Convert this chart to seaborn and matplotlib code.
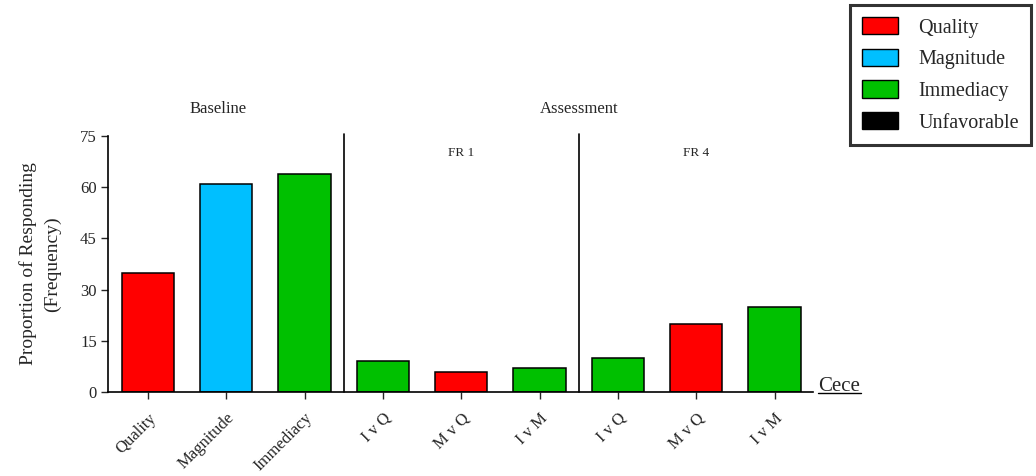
import pandas as pd
import numpy as np
import matplotlib.pyplot as plt
import seaborn as sns
from matplotlib.patches import Patch

# 数据
labels = ['Quality', 'Magnitude', 'Immediacy', 'I v Q', 'M v Q', 'I v M', 'I v Q', 'M v Q', 'I v M']
values = [35, 61, 64, 9, 6, 7, 10, 20, 25]
kinds = ['Quality', 'Magnitude', 'Immediacy', 'Immediacy', 'Quality', 'Immediacy', 'Immediacy', 'Quality', 'Immediacy']
legend_names = ['Quality', 'Magnitude', 'Immediacy', 'Unfavorable']
colors = {'Quality': '#FF0000', 'Magnitude': '#00BFFF', 'Immediacy': '#00C000', 'Unfavorable': '#000000'}

sns.set_style('white')
plt.rcParams['font.family'] = ['Liberation Serif', 'DejaVu Serif']

df = pd.DataFrame({'pos': [str(i) for i in range(len(values))], 'value': values, 'kind': kinds})

fig = plt.figure(figsize=(10.36, 4.76), dpi=100)
ax = fig.add_axes([0.1042, 0.1765, 0.6805, 0.5378])
sns.barplot(data=df, x='pos', y='value', hue='kind', palette=colors, dodge=False,
            width=0.67, saturation=1, edgecolor='black', linewidth=1.1, legend=False, ax=ax)

ax.set_xlim(-0.51, 8.49)
ax.set_ylim(0, 75)
ax.set_yticks([0, 15, 30, 45, 60, 75])
ax.set_xticks(range(len(labels)))
ax.set_xticklabels(labels, rotation=45, ha='right', rotation_mode='anchor', fontsize=12)
ax.tick_params(axis='y', labelsize=12, length=5, width=1, direction='out', left=True, pad=3)
ax.tick_params(axis='x', length=5, width=1, direction='out', bottom=True, pad=8)
ax.set_xlabel('')
ax.set_ylabel('Proportion of Responding\n(Frequency)', fontsize=14, labelpad=14, linespacing=1.5)
sns.despine(ax=ax)
for s in ['left', 'bottom']:
    ax.spines[s].set_color('black')
    ax.spines[s].set_linewidth(1.2)

# 分隔线
for xv in [2.5, 5.5]:
    ax.plot([xv, xv], [0, 75.5], color='black', lw=1.2, clip_on=False)

ax.text(0.9, 83, 'Baseline', ha='center', va='center', fontsize=12)
ax.text(5.5, 83, 'Assessment', ha='center', va='center', fontsize=12)
ax.text(4.0, 70, 'FR 1', ha='center', va='center', fontsize=9.5)
ax.text(7.0, 70, 'FR 4', ha='center', va='center', fontsize=9.5)
ax.text(8.56, 0.4, 'Cece', ha='left', va='baseline', fontsize=15)
ax.plot([8.56, 9.1], [-0.3, -0.3], color='black', lw=1, clip_on=False)

handles = [Patch(facecolor=colors[n], edgecolor='black', label=n) for n in legend_names]
leg = fig.legend(handles=handles, loc='upper right', bbox_to_anchor=(0.999, 0.998),
                 fontsize=14.5, frameon=True, fancybox=False, handlelength=1.8,
                 handleheight=0.95, labelspacing=0.55, borderpad=0.6, handletextpad=1.0,
                 borderaxespad=0.2)
leg.get_frame().set_edgecolor('black')
leg.get_frame().set_linewidth(2.2)

plt.savefig('out.png', dpi=100)
